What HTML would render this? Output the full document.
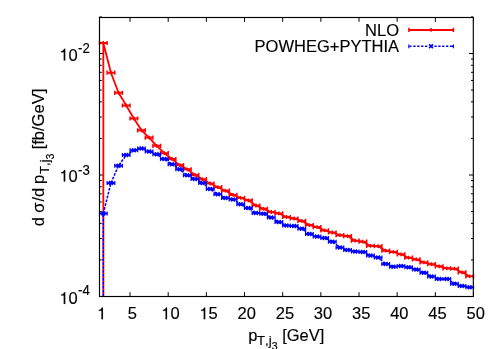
<!DOCTYPE html>
<html><head><meta charset="utf-8"><title>plot</title>
<style>html,body{margin:0;padding:0;background:#fff;overflow:hidden}svg{display:block;will-change:transform}text{font-family:"Liberation Sans",sans-serif;fill:#000;font-kerning:none;stroke:#000;stroke-width:0.15px}</style></head><body>
<svg width="498" height="349" viewBox="0 0 498 349">
<rect x="0" y="0" width="498" height="349" fill="#fff"/>
<path d="M99.50 296.50v-4.3M99.50 17.50v4.3M130.03 296.50v-4.3M130.03 17.50v4.3M168.19 296.50v-4.3M168.19 17.50v4.3M206.36 296.50v-4.3M206.36 17.50v4.3M244.52 296.50v-4.3M244.52 17.50v4.3M282.68 296.50v-4.3M282.68 17.50v4.3M320.85 296.50v-4.3M320.85 17.50v4.3M359.01 296.50v-4.3M359.01 17.50v4.3M397.17 296.50v-4.3M397.17 17.50v4.3M435.34 296.50v-4.3M435.34 17.50v4.3M473.50 296.50v-4.3M473.50 17.50v4.3M99.50 296.50h4.3M473.30 296.50h-4.3M99.50 259.92h2.3M473.30 259.92h-2.3M99.50 238.53h2.3M473.30 238.53h-2.3M99.50 223.35h2.3M473.30 223.35h-2.3M99.50 211.58h2.3M473.30 211.58h-2.3M99.50 201.95h2.3M473.30 201.95h-2.3M99.50 193.82h2.3M473.30 193.82h-2.3M99.50 186.77h2.3M473.30 186.77h-2.3M99.50 180.56h2.3M473.30 180.56h-2.3M99.50 175.00h4.3M473.30 175.00h-4.3M99.50 138.42h2.3M473.30 138.42h-2.3M99.50 117.03h2.3M473.30 117.03h-2.3M99.50 101.85h2.3M473.30 101.85h-2.3M99.50 90.08h2.3M473.30 90.08h-2.3M99.50 80.45h2.3M473.30 80.45h-2.3M99.50 72.32h2.3M473.30 72.32h-2.3M99.50 65.27h2.3M473.30 65.27h-2.3M99.50 59.06h2.3M473.30 59.06h-2.3M99.50 53.50h4.3M473.30 53.50h-4.3M99.50 16.92h2.3M473.30 16.92h-2.3" stroke="#000" stroke-width="1.0" fill="none"/>
<path d="M103.32 296.50L103.32 43.00L110.95 72.70L118.58 92.80L126.21 105.50L133.85 118.50L141.48 130.30L149.11 137.60L156.74 145.80L164.38 153.20L172.01 159.00L179.64 165.10L187.28 169.30L194.91 174.90L202.54 179.20L210.17 183.50L217.81 187.20L225.44 190.70L233.07 194.90L240.70 197.90L248.34 200.30L255.97 205.50L263.60 208.80L271.23 212.00L278.87 213.40L286.50 217.00L294.13 218.50L301.77 220.90L309.40 225.10L317.03 227.10L324.66 230.40L332.30 232.50L339.93 235.20L347.56 236.10L355.19 240.70L362.83 241.70L370.46 245.80L378.09 246.20L385.72 250.70L393.36 251.90L400.99 254.30L408.62 257.70L416.26 259.40L423.89 262.40L431.52 264.20L439.15 266.30L446.79 268.30L454.42 268.70L462.05 272.30L469.68 276.30" stroke="#ff0000" stroke-width="1.8" fill="none" stroke-linejoin="round"/>
<path d="M99.50 43.00h7.63M107.13 72.70h7.63M114.77 92.80h7.63M122.40 105.50h7.63M130.03 118.50h7.63M137.66 130.30h7.63M145.30 137.60h7.63M152.93 145.80h7.63M160.56 153.20h7.63M168.19 159.00h7.63M175.83 165.10h7.63M183.46 169.30h7.63M191.09 174.90h7.63M198.72 179.20h7.63M206.36 183.50h7.63M213.99 187.20h7.63M221.62 190.70h7.63M229.26 194.90h7.63M236.89 197.90h7.63M244.52 200.30h7.63M252.15 205.50h7.63M259.79 208.80h7.63M267.42 212.00h7.63M275.05 213.40h7.63M282.68 217.00h7.63M290.32 218.50h7.63M297.95 220.90h7.63M305.58 225.10h7.63M313.21 227.10h7.63M320.85 230.40h7.63M328.48 232.50h7.63M336.11 235.20h7.63M343.74 236.10h7.63M351.38 240.70h7.63M359.01 241.70h7.63M366.64 245.80h7.63M374.28 246.20h7.63M381.91 250.70h7.63M389.54 251.90h7.63M397.17 254.30h7.63M404.81 257.70h7.63M412.44 259.40h7.63M420.07 262.40h7.63M427.70 264.20h7.63M435.34 266.30h7.63M442.97 268.30h7.63M450.60 268.70h7.63M458.23 272.30h7.63M465.87 276.30h7.63" stroke="#ff0000" stroke-width="2.0" fill="none"/>
<path d="M99.50 40.90v4.2M107.13 40.90v4.2M107.13 70.60v4.2M114.77 70.60v4.2M114.77 90.70v4.2M122.40 90.70v4.2M122.40 103.40v4.2M130.03 103.40v4.2M130.03 116.40v4.2M137.66 116.40v4.2M137.66 128.20v4.2M145.30 128.20v4.2M145.30 135.50v4.2M152.93 135.50v4.2M152.93 143.70v4.2M160.56 143.70v4.2M160.56 151.10v4.2M168.19 151.10v4.2M168.19 156.90v4.2M175.83 156.90v4.2M175.83 163.00v4.2M183.46 163.00v4.2M183.46 167.20v4.2M191.09 167.20v4.2M191.09 172.80v4.2M198.72 172.80v4.2M198.72 177.10v4.2M206.36 177.10v4.2M206.36 181.40v4.2M213.99 181.40v4.2M213.99 185.10v4.2M221.62 185.10v4.2M221.62 188.60v4.2M229.26 188.60v4.2M229.26 192.80v4.2M236.89 192.80v4.2M236.89 195.80v4.2M244.52 195.80v4.2M244.52 198.20v4.2M252.15 198.20v4.2M252.15 203.40v4.2M259.79 203.40v4.2M259.79 206.70v4.2M267.42 206.70v4.2M267.42 209.90v4.2M275.05 209.90v4.2M275.05 211.30v4.2M282.68 211.30v4.2M282.68 214.90v4.2M290.32 214.90v4.2M290.32 216.40v4.2M297.95 216.40v4.2M297.95 218.80v4.2M305.58 218.80v4.2M305.58 223.00v4.2M313.21 223.00v4.2M313.21 225.00v4.2M320.85 225.00v4.2M320.85 228.30v4.2M328.48 228.30v4.2M328.48 230.40v4.2M336.11 230.40v4.2M336.11 233.10v4.2M343.74 233.10v4.2M343.74 234.00v4.2M351.38 234.00v4.2M351.38 238.60v4.2M359.01 238.60v4.2M359.01 239.60v4.2M366.64 239.60v4.2M366.64 243.70v4.2M374.28 243.70v4.2M374.28 244.10v4.2M381.91 244.10v4.2M381.91 248.60v4.2M389.54 248.60v4.2M389.54 249.80v4.2M397.17 249.80v4.2M397.17 252.20v4.2M404.81 252.20v4.2M404.81 255.60v4.2M412.44 255.60v4.2M412.44 257.30v4.2M420.07 257.30v4.2M420.07 260.30v4.2M427.70 260.30v4.2M427.70 262.10v4.2M435.34 262.10v4.2M435.34 264.20v4.2M442.97 264.20v4.2M442.97 266.20v4.2M450.60 266.20v4.2M450.60 266.60v4.2M458.23 266.60v4.2M458.23 270.20v4.2M465.87 270.20v4.2M465.87 274.20v4.2M473.50 274.20v4.2" stroke="#ff0000" stroke-width="1.5" fill="none"/>
<path d="M103.32 41.10v3.8M110.95 70.80v3.8M118.58 90.90v3.8M126.21 103.60v3.8M133.85 116.60v3.8M141.48 128.40v3.8M149.11 135.70v3.8M156.74 143.90v3.8M164.38 151.30v3.8M172.01 157.10v3.8M179.64 163.20v3.8M187.28 167.40v3.8M194.91 173.00v3.8M202.54 177.30v3.8M210.17 181.60v3.8M217.81 185.30v3.8M225.44 188.80v3.8M233.07 193.00v3.8M240.70 196.00v3.8M248.34 198.40v3.8M255.97 203.60v3.8M263.60 206.90v3.8M271.23 210.10v3.8M278.87 211.50v3.8M286.50 215.10v3.8M294.13 216.60v3.8M301.77 219.00v3.8M309.40 223.20v3.8M317.03 225.20v3.8M324.66 228.50v3.8M332.30 230.60v3.8M339.93 233.30v3.8M347.56 234.20v3.8M355.19 238.80v3.8M362.83 239.80v3.8M370.46 243.90v3.8M378.09 244.30v3.8M385.72 248.80v3.8M393.36 250.00v3.8M400.99 252.40v3.8M408.62 255.80v3.8M416.26 257.50v3.8M423.89 260.50v3.8M431.52 262.30v3.8M439.15 264.40v3.8M446.79 266.40v3.8M454.42 266.80v3.8M462.05 270.40v3.8M469.68 274.40v3.8" stroke="#ff0000" stroke-width="1.5" fill="none"/>
<path d="M103.32 296.50L103.32 213.40L110.95 182.90L118.58 165.70L126.21 155.00L133.85 150.20L141.48 148.40L149.11 151.40L156.74 154.30L164.38 159.00L172.01 164.30L179.64 169.30L187.28 175.30L194.91 178.90L202.54 183.10L210.17 189.00L217.81 194.30L225.44 197.90L233.07 199.40L240.70 204.30L248.34 208.10L255.97 212.90L263.60 213.70L271.23 217.50L278.87 222.10L286.50 225.50L294.13 226.00L301.77 228.70L309.40 233.90L317.03 236.60L324.66 237.90L332.30 241.70L339.93 247.50L347.56 249.90L355.19 251.50L362.83 252.00L370.46 255.60L378.09 257.50L385.72 263.90L393.36 266.70L400.99 266.10L408.62 267.20L416.26 269.60L423.89 272.70L431.52 276.50L439.15 278.90L446.79 278.90L454.42 283.70L462.05 285.90L469.68 287.30" stroke="#0000ff" stroke-width="1.55" fill="none" stroke-linejoin="round" stroke-dasharray="2.65 1.3"/>
<path d="M99.50 213.40h7.63M107.13 182.90h7.63M114.77 165.70h7.63M122.40 155.00h7.63M130.03 150.20h7.63M137.66 148.40h7.63M145.30 151.40h7.63M152.93 154.30h7.63M160.56 159.00h7.63M168.19 164.30h7.63M175.83 169.30h7.63M183.46 175.30h7.63M191.09 178.90h7.63M198.72 183.10h7.63M206.36 189.00h7.63M213.99 194.30h7.63M221.62 197.90h7.63M229.26 199.40h7.63M236.89 204.30h7.63M244.52 208.10h7.63M252.15 212.90h7.63M259.79 213.70h7.63M267.42 217.50h7.63M275.05 222.10h7.63M282.68 225.50h7.63M290.32 226.00h7.63M297.95 228.70h7.63M305.58 233.90h7.63M313.21 236.60h7.63M320.85 237.90h7.63M328.48 241.70h7.63M336.11 247.50h7.63M343.74 249.90h7.63M351.38 251.50h7.63M359.01 252.00h7.63M366.64 255.60h7.63M374.28 257.50h7.63M381.91 263.90h7.63M389.54 266.70h7.63M397.17 266.10h7.63M404.81 267.20h7.63M412.44 269.60h7.63M420.07 272.70h7.63M427.70 276.50h7.63M435.34 278.90h7.63M442.97 278.90h7.63M450.60 283.70h7.63M458.23 285.90h7.63M465.87 287.30h7.63" stroke="#0000ff" stroke-width="2.0" fill="none"/>
<path d="M99.50 211.40v4.0M107.13 211.40v4.0M107.13 180.90v4.0M114.77 180.90v4.0M114.77 163.70v4.0M122.40 163.70v4.0M122.40 153.00v4.0M130.03 153.00v4.0M130.03 148.20v4.0M137.66 148.20v4.0M137.66 146.40v4.0M145.30 146.40v4.0M145.30 149.40v4.0M152.93 149.40v4.0M152.93 152.30v4.0M160.56 152.30v4.0M160.56 157.00v4.0M168.19 157.00v4.0M168.19 162.30v4.0M175.83 162.30v4.0M175.83 167.30v4.0M183.46 167.30v4.0M183.46 173.30v4.0M191.09 173.30v4.0M191.09 176.90v4.0M198.72 176.90v4.0M198.72 181.10v4.0M206.36 181.10v4.0M206.36 187.00v4.0M213.99 187.00v4.0M213.99 192.30v4.0M221.62 192.30v4.0M221.62 195.90v4.0M229.26 195.90v4.0M229.26 197.40v4.0M236.89 197.40v4.0M236.89 202.30v4.0M244.52 202.30v4.0M244.52 206.10v4.0M252.15 206.10v4.0M252.15 210.90v4.0M259.79 210.90v4.0M259.79 211.70v4.0M267.42 211.70v4.0M267.42 215.50v4.0M275.05 215.50v4.0M275.05 220.10v4.0M282.68 220.10v4.0M282.68 223.50v4.0M290.32 223.50v4.0M290.32 224.00v4.0M297.95 224.00v4.0M297.95 226.70v4.0M305.58 226.70v4.0M305.58 231.90v4.0M313.21 231.90v4.0M313.21 234.60v4.0M320.85 234.60v4.0M320.85 235.90v4.0M328.48 235.90v4.0M328.48 239.70v4.0M336.11 239.70v4.0M336.11 245.50v4.0M343.74 245.50v4.0M343.74 247.90v4.0M351.38 247.90v4.0M351.38 249.50v4.0M359.01 249.50v4.0M359.01 250.00v4.0M366.64 250.00v4.0M366.64 253.60v4.0M374.28 253.60v4.0M374.28 255.50v4.0M381.91 255.50v4.0M381.91 261.90v4.0M389.54 261.90v4.0M389.54 264.70v4.0M397.17 264.70v4.0M397.17 264.10v4.0M404.81 264.10v4.0M404.81 265.20v4.0M412.44 265.20v4.0M412.44 267.60v4.0M420.07 267.60v4.0M420.07 270.70v4.0M427.70 270.70v4.0M427.70 274.50v4.0M435.34 274.50v4.0M435.34 276.90v4.0M442.97 276.90v4.0M442.97 276.90v4.0M450.60 276.90v4.0M450.60 281.70v4.0M458.23 281.70v4.0M458.23 283.90v4.0M465.87 283.90v4.0M465.87 285.30v4.0M473.50 285.30v4.0" stroke="#0000ff" stroke-width="1.25" fill="none"/>
<path d="M101.42 211.50l3.8 3.8M101.42 215.30l3.8 -3.8M109.05 181.00l3.8 3.8M109.05 184.80l3.8 -3.8M116.68 163.80l3.8 3.8M116.68 167.60l3.8 -3.8M124.31 153.10l3.8 3.8M124.31 156.90l3.8 -3.8M131.95 148.30l3.8 3.8M131.95 152.10l3.8 -3.8M139.58 146.50l3.8 3.8M139.58 150.30l3.8 -3.8M147.21 149.50l3.8 3.8M147.21 153.30l3.8 -3.8M154.84 152.40l3.8 3.8M154.84 156.20l3.8 -3.8M162.48 157.10l3.8 3.8M162.48 160.90l3.8 -3.8M170.11 162.40l3.8 3.8M170.11 166.20l3.8 -3.8M177.74 167.40l3.8 3.8M177.74 171.20l3.8 -3.8M185.38 173.40l3.8 3.8M185.38 177.20l3.8 -3.8M193.01 177.00l3.8 3.8M193.01 180.80l3.8 -3.8M200.64 181.20l3.8 3.8M200.64 185.00l3.8 -3.8M208.27 187.10l3.8 3.8M208.27 190.90l3.8 -3.8M215.91 192.40l3.8 3.8M215.91 196.20l3.8 -3.8M223.54 196.00l3.8 3.8M223.54 199.80l3.8 -3.8M231.17 197.50l3.8 3.8M231.17 201.30l3.8 -3.8M238.80 202.40l3.8 3.8M238.80 206.20l3.8 -3.8M246.44 206.20l3.8 3.8M246.44 210.00l3.8 -3.8M254.07 211.00l3.8 3.8M254.07 214.80l3.8 -3.8M261.70 211.80l3.8 3.8M261.70 215.60l3.8 -3.8M269.33 215.60l3.8 3.8M269.33 219.40l3.8 -3.8M276.97 220.20l3.8 3.8M276.97 224.00l3.8 -3.8M284.60 223.60l3.8 3.8M284.60 227.40l3.8 -3.8M292.23 224.10l3.8 3.8M292.23 227.90l3.8 -3.8M299.87 226.80l3.8 3.8M299.87 230.60l3.8 -3.8M307.50 232.00l3.8 3.8M307.50 235.80l3.8 -3.8M315.13 234.70l3.8 3.8M315.13 238.50l3.8 -3.8M322.76 236.00l3.8 3.8M322.76 239.80l3.8 -3.8M330.40 239.80l3.8 3.8M330.40 243.60l3.8 -3.8M338.03 245.60l3.8 3.8M338.03 249.40l3.8 -3.8M345.66 248.00l3.8 3.8M345.66 251.80l3.8 -3.8M353.29 249.60l3.8 3.8M353.29 253.40l3.8 -3.8M360.93 250.10l3.8 3.8M360.93 253.90l3.8 -3.8M368.56 253.70l3.8 3.8M368.56 257.50l3.8 -3.8M376.19 255.60l3.8 3.8M376.19 259.40l3.8 -3.8M383.82 262.00l3.8 3.8M383.82 265.80l3.8 -3.8M391.46 264.80l3.8 3.8M391.46 268.60l3.8 -3.8M399.09 264.20l3.8 3.8M399.09 268.00l3.8 -3.8M406.72 265.30l3.8 3.8M406.72 269.10l3.8 -3.8M414.36 267.70l3.8 3.8M414.36 271.50l3.8 -3.8M421.99 270.80l3.8 3.8M421.99 274.60l3.8 -3.8M429.62 274.60l3.8 3.8M429.62 278.40l3.8 -3.8M437.25 277.00l3.8 3.8M437.25 280.80l3.8 -3.8M444.89 277.00l3.8 3.8M444.89 280.80l3.8 -3.8M452.52 281.80l3.8 3.8M452.52 285.60l3.8 -3.8M460.15 284.00l3.8 3.8M460.15 287.80l3.8 -3.8M467.78 285.40l3.8 3.8M467.78 289.20l3.8 -3.8" stroke="#0000ff" stroke-width="1.65" fill="none"/>
<path d="M408.9 29.9H453.4" stroke="#ff0000" stroke-width="2.0" fill="none"/>
<path d="M408.9 27.799999999999997v4.2M453.4 27.799999999999997v4.2" stroke="#ff0000" stroke-width="1.5" fill="none"/>
<path d="M431.05 28.0v3.8" stroke="#ff0000" stroke-width="1.5" fill="none"/>
<path d="M409.4 46.3H411.6M413.3 46.3H415.6M417.2 46.3H419.5M421.1 46.3H423.4M425.0 46.3H427.3M429.9 46.3H432.2M434.4 46.3H436.7M438.3 46.3H440.6M442.1 46.3H444.4M446.0 46.3H448.3M449.9 46.3H453.4" stroke="#0000ff" stroke-width="1.55" fill="none"/>
<path d="M408.9 44.4v3.8M453.4 44.4v3.8" stroke="#0000ff" stroke-width="1.2" fill="none"/>
<path d="M429.15000000000003 44.4l3.8 3.8M429.15000000000003 48.199999999999996l3.8 -3.8" stroke="#0000ff" stroke-width="1.7" fill="none"/>
<rect x="99.5" y="17.5" width="373.80" height="279.0" fill="none" stroke="#000" stroke-width="1.15"/>
<g font-size="16.5">
<text x="399.0" y="35.5" text-anchor="end">NLO</text>
<text x="399.0" y="52.1" text-anchor="end">POWHEG+PYTHIA</text>
<path d="M353 0H264V505H102V568C190 574 252 612 293 709H353Z" fill="#000" stroke="#000" stroke-width="9" transform="translate(97.11 319.20) scale(0.01650 -0.01650)"/>
<text x="127.64" y="319.20">5</text>
<path d="M353 0H264V505H102V568C190 574 252 612 293 709H353Z" fill="#000" stroke="#000" stroke-width="9" transform="translate(161.22 319.20) scale(0.01650 -0.01650)"/><text x="170.39" y="319.20">0</text>
<path d="M353 0H264V505H102V568C190 574 252 612 293 709H353Z" fill="#000" stroke="#000" stroke-width="9" transform="translate(199.38 319.20) scale(0.01650 -0.01650)"/><text x="208.56" y="319.20">5</text>
<text x="237.54" y="319.20">20</text>
<text x="275.71" y="319.20">25</text>
<text x="313.87" y="319.20">30</text>
<text x="352.03" y="319.20">35</text>
<text x="390.20" y="319.20">40</text>
<text x="428.36" y="319.20">45</text>
<text x="466.52" y="319.20">50</text>
<path d="M353 0H264V505H102V568C190 574 252 612 293 709H353Z" fill="#000" stroke="#000" stroke-width="9" transform="translate(59.40 60.50) scale(0.01650 -0.01650)"/><text x="68.58" y="60.50">0</text>
<text transform="translate(78.0 52.50) scale(1 1.08)" font-size="13.2">-2</text>
<path d="M353 0H264V505H102V568C190 574 252 612 293 709H353Z" fill="#000" stroke="#000" stroke-width="9" transform="translate(59.40 181.60) scale(0.01650 -0.01650)"/><text x="68.58" y="181.60">0</text>
<text transform="translate(78.0 174.70) scale(1 1.08)" font-size="13.2">-3</text>
<path d="M353 0H264V505H102V568C190 574 252 612 293 709H353Z" fill="#000" stroke="#000" stroke-width="9" transform="translate(59.40 303.90) scale(0.01650 -0.01650)"/><text x="68.58" y="303.90">0</text>
<text transform="translate(78.0 295.40) scale(1 1.08)" font-size="13.2">-4</text>
<text x="248.3" y="341.3">p</text>
<text x="257.0" y="345.4" font-size="13.2">T,j</text>
<text x="271.7" y="349.6" font-size="10.56">3</text>
<text x="282.2" y="341.3">[GeV]</text>
<g transform="translate(43.9 225) rotate(-90)">
<text x="-1.3" y="0">d</text>
<text x="12.2" y="0">σ</text>
<text x="23.4" y="0">/d</text>
<text x="41.0" y="0">p</text>
<text x="51.0" y="5.0" font-size="13.2">T,j</text>
<text x="65.5" y="9.7" font-size="10.56">3</text>
<text x="75.7" y="0">[fb/GeV]</text>
</g>
</g>
</svg></body></html>
